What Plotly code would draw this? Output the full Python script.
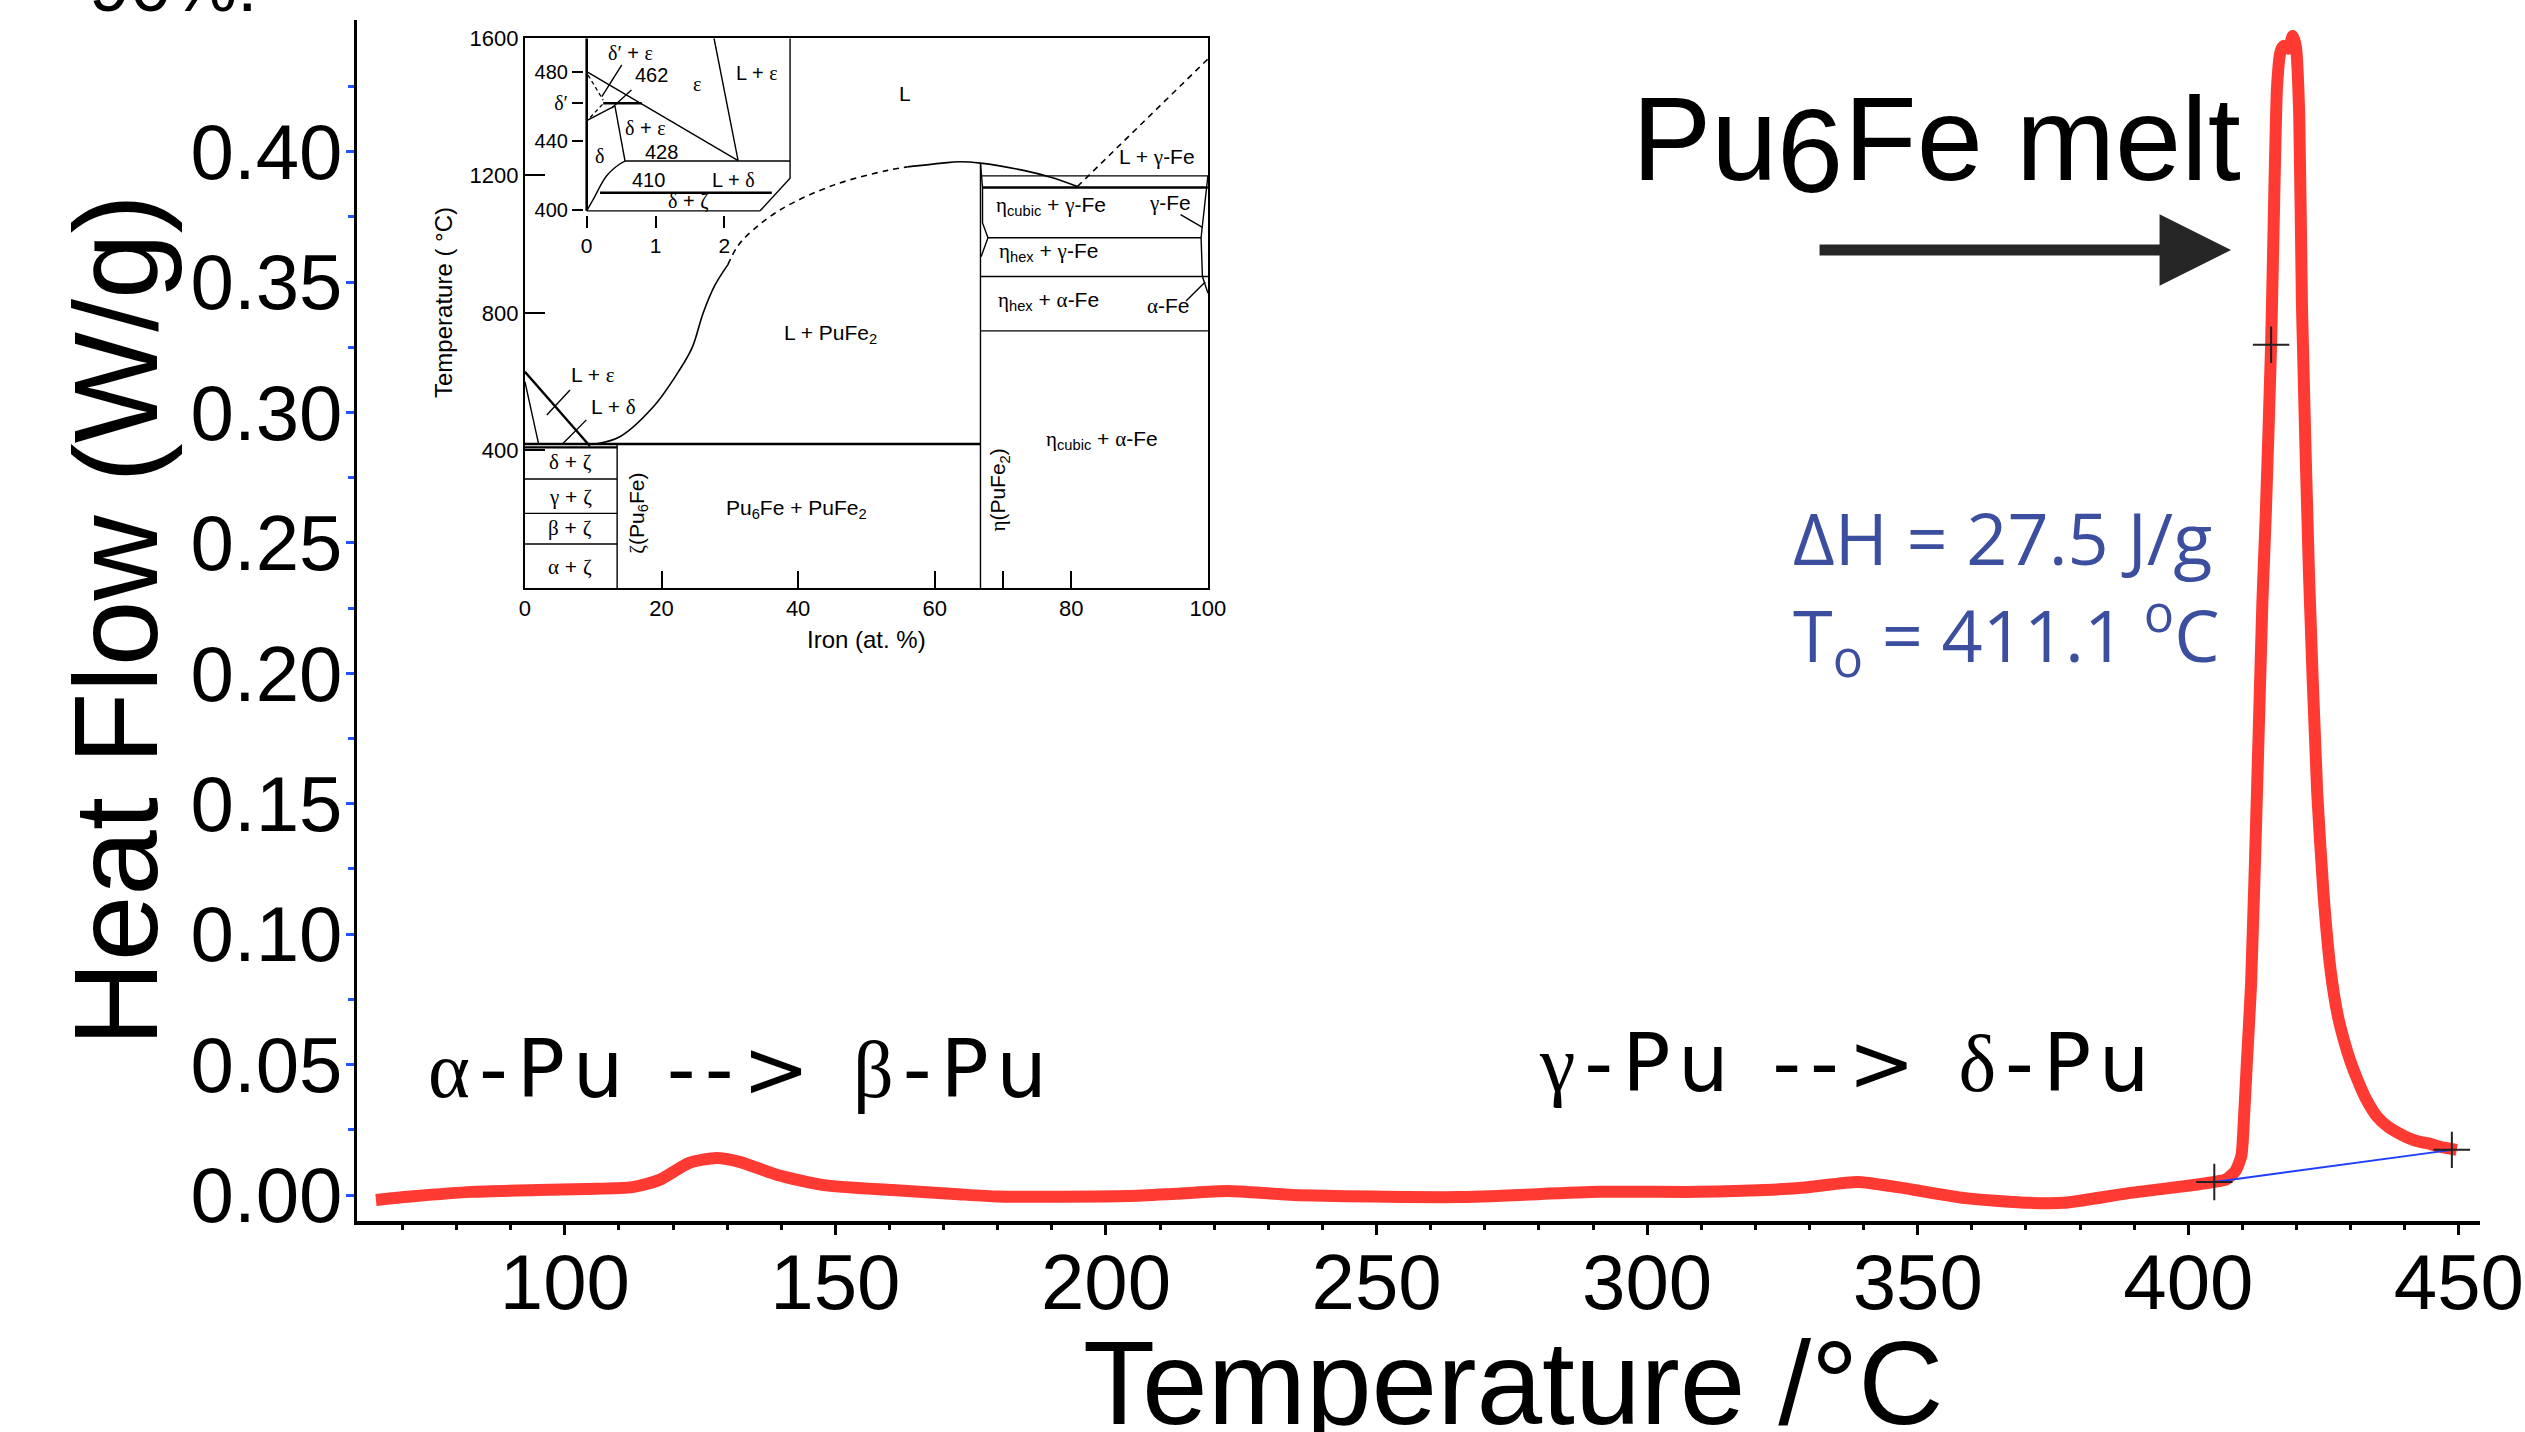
import plotly.graph_objects as go

# ---------------- DSC trace (main chart) ----------------
dsc_temp = [65.1, 72.0, 82.8, 95.0, 104.0, 112.5, 117.5, 123.0, 128.0, 132.3, 139.3, 147.8,
            160.5, 172.0, 180.0, 204.0, 213.0, 222.5, 234.7, 265.0, 291.0, 309.4, 321.8,
            329.7, 338.9, 346.3, 358.7, 370.8, 377.0, 389.3, 401.7, 404.8, 407.0, 408.7,
            409.8, 410.3, 410.8, 411.6, 412.7, 413.7, 414.3, 415.3, 415.9, 416.4, 417.0,
            417.6, 418.5, 419.3, 419.9, 420.5, 421.0, 422.3, 423.8, 425.0, 426.3, 427.6,
            428.8, 430.0, 431.2, 432.8, 434.9, 437.0, 439.9, 442.0, 444.7, 446.5, 449.6]
dsc_heatflow = [-0.0019, -0.0005, 0.0012, 0.0019, 0.0023, 0.0030, 0.0058, 0.0123, 0.0142,
                0.0127, 0.0077, 0.0038, 0.0019, 0.0004, -0.0006, -0.0004, 0.0005, 0.0015,
                0.0000, -0.0008, 0.0012, 0.0012, 0.0019, 0.0030, 0.0050, 0.0030, -0.0012,
                -0.0030, -0.0030, 0.0008, 0.0040, 0.0050, 0.0060, 0.0092, 0.0150, 0.0300,
                0.0500, 0.0810, 0.1550, 0.2280, 0.2600, 0.3260, 0.3850, 0.4250, 0.4380,
                0.4405, 0.4395, 0.4444, 0.4400, 0.4140, 0.3410, 0.2380, 0.1550, 0.1150,
                0.0860, 0.0690, 0.0590, 0.0510, 0.0445, 0.0370, 0.0300, 0.0260, 0.0226,
                0.0208, 0.0196, 0.0185, 0.0173]
onset_temp = [404.8, 415.3, 448.7]
onset_heatflow = [0.0050, 0.3260, 0.0173]
baseline_temp = [404.8, 448.7]
baseline_heatflow = [0.0050, 0.0173]

x_tick_vals = [100, 150, 200, 250, 300, 350, 400, 450]
x_minor_vals = [70, 80, 90, 110, 120, 130, 140, 160, 170, 180, 190, 210, 220, 230, 240,
                260, 270, 280, 290, 310, 320, 330, 340, 360, 370, 380, 390, 410, 420, 430, 440]
y_tick_vals = [0.00, 0.05, 0.10, 0.15, 0.20, 0.25, 0.30, 0.35, 0.40]
y_minor_vals = [0.025, 0.075, 0.125, 0.175, 0.225, 0.275, 0.325, 0.375, 0.425]

# ---------------- Pu-Fe phase diagram inset (at.% Fe, deg C) ----------------
pd_eutectic = ([0, 66.7], [419, 419])
pd_zeta_top = ([0, 13.5], [409, 409])
pd_delta_gamma = ([0, 13.5], [317, 317])
pd_gamma_beta = ([0, 13.5], [217, 217])
pd_beta_alpha = ([0, 13.5], [128, 128])
pd_zeta_line = ([13.5, 13.5], [0, 419])
pd_eta_line = ([66.7, 66.7], [0, 1236])
pd_liq_solid_a = ([10.3, 13.9, 18.8, 22.5, 24.5, 26.1, 27.8, 29.7],
                  [419, 440, 527, 630, 700, 800, 880, 940])
pd_liq_dashed = ([29.7, 31.0, 32.5, 37.2, 45.2, 53.1, 56.0],
                 [940, 990, 1025, 1098, 1172, 1215, 1225])
pd_liq_solid_b = ([56.0, 61.1, 63.5, 66.7, 73.0, 77.0, 80.9],
                  [1225, 1236, 1240, 1236, 1215, 1195, 1168])
pd_fe_liquidus = ([80.9, 100], [1168, 1539])
pd_eps_liquidus = ([0, 9.5], [629, 413])
pd_eps_solidus = ([0, 2.0], [600, 419])
pd_h_1199 = ([66.7, 100], [1199, 1199])
pd_h_1165 = ([67.0, 100], [1165, 1165])
pd_h_1019 = ([67.8, 99.0], [1019, 1019])
pd_h_906 = ([66.7, 100], [906, 906])
pd_h_748 = ([66.7, 100], [748, 748])
pd_eta_bound = ([66.7, 67.0, 67.0, 67.8, 66.8], [1236, 1165, 1062, 1019, 964])
pd_fe_side = ([100, 99.0, 99.2, 100], [1199, 1019, 906, 858])
pd_lead_le = ([6.6, 3.2], [576, 503])
pd_lead_ld = ([9.0, 5.6], [489, 421])
pd_lead_gfe = ([96.0, 99.2], [1086, 1049])
pd_lead_afe = ([96.8, 99.6], [835, 890])

# enlarged Pu-rich corner (at.% Fe 0-3, 400-500 C)
in_eps_solvus = ([0, 2.20], [480, 428.5])
in_dprime_low = ([0, 0.41], [451.7, 460.2])
in_462 = ([0.24, 0.80], [461.7, 461.7])
in_delta_b = ([0.41, 0.557], [460.2, 428.3])
in_428 = ([0.557, 2.955], [428.3, 428.3])
in_eps_liq = ([1.85, 2.20], [499.3, 428.5])
in_right = ([2.955, 2.955, 2.52], [499.3, 418.3, 399.5])
in_410 = ([0.194, 2.69], [410, 410])
in_bottom = ([0, 2.52], [399.5, 399.5])
in_delta_solvus = ([0, 0.097, 0.29, 0.48, 0.557], [399.5, 406.3, 419.8, 426.6, 428.3])
in_left = ([0, 0], [399.5, 499.3])
in_dash1 = ([0.02, 0.24], [478, 463.5])
in_dash2 = ([0.05, 0.24], [453.5, 461.5])
in_lead1 = ([0.51, 0.22], [483.9, 465.5])
in_lead2 = ([0.65, 0.36], [469.4, 458.8])

SANS = "Liberation Sans, Arial, sans-serif"
WIDE = "DejaVu Sans, sans-serif"
SERIF = "Liberation Serif"


def gk(s):
    out = ""
    for ch in s:
        if "\u0370" <= ch <= "\u03ff" or ch == "\u2032":
            out += '<span style="font-family:%s">%s</span>' % (SERIF, ch)
        else:
            out += ch
    return out


fig = go.Figure()

# main DSC curve
fig.add_trace(go.Scatter(x=dsc_temp, y=dsc_heatflow, mode="lines",
                         line=dict(color="#fe3a33", width=12, shape="spline", smoothing=0.6),
                         hoverinfo="skip", showlegend=False))
fig.add_trace(go.Scatter(x=baseline_temp, y=baseline_heatflow, mode="lines",
                         line=dict(color="#1f3fff", width=2),
                         hoverinfo="skip", showlegend=False))
fig.add_trace(go.Scatter(x=onset_temp, y=onset_heatflow, mode="markers",
                         marker=dict(symbol="cross-thin", size=26,
                                     line=dict(color="#222222", width=2)),
                         hoverinfo="skip", showlegend=False))


def add_line(seg, ax="2", width=1.6, dash="solid", shape="linear"):
    fig.add_trace(go.Scatter(x=seg[0], y=seg[1], mode="lines",
                             line=dict(color="black", width=width, dash=dash, shape=shape),
                             xaxis="x" + ax, yaxis="y" + ax,
                             hoverinfo="skip", showlegend=False))


for seg in [pd_delta_gamma, pd_gamma_beta, pd_beta_alpha, pd_zeta_line, pd_eta_line,
            pd_fe_side, pd_eta_bound, pd_h_1199, pd_h_1019, pd_h_906, pd_h_748,
            pd_eps_solidus, pd_lead_le, pd_lead_ld, pd_lead_gfe, pd_lead_afe]:
    add_line(seg, width=1.4)
for seg in [pd_eutectic, pd_zeta_top, pd_h_1165, pd_eps_liquidus]:
    add_line(seg, width=2.4)
add_line(pd_liq_solid_a, width=1.6, shape="spline")
add_line(pd_liq_solid_b, width=1.6, shape="spline")
add_line(pd_liq_dashed, width=1.6, dash="6px,5px", shape="spline")
add_line(pd_fe_liquidus, width=1.6, dash="6px,5px")

for seg in [in_eps_solvus, in_dprime_low, in_delta_b, in_428, in_eps_liq, in_right,
            in_bottom, in_lead1, in_lead2]:
    add_line(seg, ax="3", width=1.4)
add_line(in_delta_solvus, ax="3", width=1.4, shape="spline")
for seg in [in_462, in_410, in_left]:
    add_line(seg, ax="3", width=2.6)
for seg in [in_dash1, in_dash2]:
    add_line(seg, ax="3", width=1.3, dash="4px,3px")

annotations = []


def ann(text, x, y, size, xref="x", yref="y", xanchor="center", yanchor="middle",
        color="black", family=SANS, angle=0, xshift=0, yshift=0):
    annotations.append(dict(text=text, x=x, y=y, xref=xref, yref=yref, xanchor=xanchor,
                            yanchor=yanchor, showarrow=False, textangle=angle,
                            xshift=xshift, yshift=yshift,
                            font=dict(size=size, color=color, family=family)))


# main-chart text
ann("90%:", -0.1272, 1.0291, 74, xref="paper", yref="paper", xanchor="left")
ann("Heat Flow (W/g)", -0.1133, 0.5004, 118, xref="paper", yref="paper", angle=-90)
ann("Temperature /°C", 0.5445, -0.1349, 118, xref="paper", yref="paper")
ann("Pu", 296.8, 0.4051, 119, xanchor="left")
ann("6", 296.8, 0.4051, 119, xanchor="left", xshift=145.5, yshift=-12)
ann("Fe melt", 296.8, 0.4051, 119, xanchor="left", xshift=211.7)
ann("ΔH = 27.5 J/g", 326.6, 0.2523, 72, xanchor="left", color="#3c4e9e",
    family="Open Sans, sans-serif")
ann("T<sub>o</sub> = 411.1 <sup>o</sup>C", 326.6, 0.2147, 72, xanchor="left",
    color="#3c4e9e", family="Open Sans, sans-serif")
ann('<span style="letter-spacing:9px">' + gk("α") + "-Pu --&gt; " + gk("β") + "-Pu</span>",
    74.3, 0.0481, 80, xanchor="left", family=WIDE)
ann('<span style="letter-spacing:9px">' + gk("γ") + "-Pu --&gt; " + gk("δ") + "-Pu</span>",
    279.7, 0.0506, 80, xanchor="left", family=WIDE)

annotations.append(dict(text="", x=407.9, y=0.3623, xref="x", yref="y", ax=-413, ay=0,
                        showarrow=True, arrowhead=2, arrowsize=1.3, arrowwidth=11,
                        arrowcolor="#262626"))

# inset labels
inset_labels = [
    ("L", 55.6, 1440, 0), ("L + γ-Fe", 92.6, 1253, 0),
    ("η<sub>cubic</sub> + γ-Fe", 77.0, 1111, 0), ("γ-Fe", 94.4, 1121, 0),
    ("η<sub>hex</sub> + γ-Fe", 76.6, 977, 0), ("η<sub>hex</sub> + α-Fe", 76.6, 835, 0),
    ("α-Fe", 94.3, 820, 0), ("L + PuFe<sub>2</sub>", 44.8, 740, 0),
    ("η<sub>cubic</sub> + α-Fe", 84.5, 430, 0), ("L + ε", 10.0, 620, 0),
    ("L + δ", 12.9, 527, 0), ("δ + ζ", 6.6, 365, 0), ("γ + ζ", 6.6, 266, 0),
    ("β + ζ", 6.6, 174, 0), ("α + ζ", 6.6, 62, 0),
    ("ζ(Pu<sub>6</sub>Fe)", 16.6, 217, -90), ("Pu<sub>6</sub>Fe + PuFe<sub>2</sub>", 39.7, 231, 0),
    ("η(PuFe<sub>2</sub>)", 69.4, 286, -90),
]
for t, x, y, a in inset_labels:
    ann(gk(t), x, y, 21, xref="x2", yref="y2", angle=a)

inner_labels = [
    ("δ′ + ε", 0.63, 490.6), ("462", 0.945, 478), ("ε", 1.6, 473), ("L + ε", 2.47, 479),
    ("δ + ε", 0.86, 447.2), ("428", 1.09, 433.8), ("δ", 0.19, 431), ("410", 0.9, 417.4),
    ("L + δ", 2.13, 417.4), ("δ + ζ", 1.48, 404.8),
]
for t, x, y in inner_labels:
    ann(gk(t), x, y, 20, xref="x3", yref="y3")

ann("Iron (at. %)", 50, 0.4838, 24, xref="x2", yref="paper")
ann("Temperature ( °C)", 0.041, 0.7644, 24, xref="paper", yref="paper", angle=-90)

fig.update_layout(
    width=2525, height=1432, template="none",
    margin=dict(l=357, r=45, t=20, b=211),
    paper_bgcolor="white", plot_bgcolor="rgba(0,0,0,0)",
    font=dict(family=SANS, color="black"),
    showlegend=False,
    annotations=annotations,
    xaxis=dict(range=[61.6, 453.9], domain=[0, 1], showline=True, linewidth=4,
               linecolor="black", ticks="outside", ticklen=10, tickwidth=3,
               tickcolor="black", tickmode="array", tickvals=x_tick_vals,
               ticktext=[str(v) for v in x_tick_vals],
               minor=dict(tickmode="array", tickvals=x_minor_vals, ticks="outside",
                          ticklen=5, tickwidth=3, tickcolor="black", showgrid=False),
               tickfont=dict(size=78, family=SANS, color="black"),
               showgrid=False, zeroline=False, automargin=False, ticklabelstandoff=-20),
    yaxis=dict(range=[-0.00997, 0.4505], domain=[0, 1], showline=True, linewidth=3,
               linecolor="black", ticks="outside", ticklen=8, tickwidth=3,
               tickcolor="#1f55ff", tickmode="array", tickvals=y_tick_vals,
               ticktext=["%.2f" % v for v in y_tick_vals],
               minor=dict(tickmode="array", tickvals=y_minor_vals, ticks="outside",
                          ticklen=6, tickwidth=3, tickcolor="#1f55ff", showgrid=False),
               tickfont=dict(size=78, family=SANS, color="black"),
               showgrid=False, zeroline=False, automargin=False, ticklabelstandoff=-12),
    xaxis2=dict(domain=[0.0791, 0.4008], range=[0, 100], anchor="y2", showline=True,
                mirror=True, linewidth=2, linecolor="black", ticks="inside", ticklen=17,
                tickwidth=1.5, tickcolor="black", tickmode="array",
                tickvals=[0, 20, 40, 60, 70, 80, 100],
                ticktext=["0", "20", "40", "60", "", "80", "100"],
                tickfont=dict(size=22, family=SANS), showgrid=False, zeroline=False,
                automargin=False),
    yaxis2=dict(domain=[0.5271, 0.9850], range=[0, 1600], anchor="x2", showline=True,
                mirror=True, linewidth=2, linecolor="black", ticks="inside", ticklen=20,
                tickwidth=1.5, tickcolor="black", tickmode="array",
                tickvals=[400, 800, 1200, 1600], ticktext=["400", "800", "1200", "1600"],
                tickfont=dict(size=22, family=SANS), showgrid=False, zeroline=False,
                automargin=False),
    xaxis3=dict(domain=[0.1069, 0.2048], range=[-0.04, 2.98], anchor="y3", showline=False,
                ticks="outside", ticklen=12, tickwidth=1.5, tickcolor="black",
                tickmode="array", tickvals=[0, 1, 2], ticktext=["0", "1", "2"],
                tickfont=dict(size=21, family=SANS), showgrid=False, zeroline=False,
                automargin=False),
    yaxis3=dict(domain=[0.8375, 0.9848], range=[397, 499.3], anchor="x3", showline=False,
                ticks="outside", ticklen=11, tickwidth=1.5, tickcolor="black",
                tickmode="array", tickvals=[400, 440, 462, 480],
                ticktext=["400", "440", gk("δ′"), "480"],
                tickfont=dict(size=20, family=SANS), showgrid=False, zeroline=False,
                automargin=False),
)

fig.write_html("out.html", config={"displayModeBar": False},
               post_script="document.body.style.margin='0';document.body.style.overflow='hidden';")
